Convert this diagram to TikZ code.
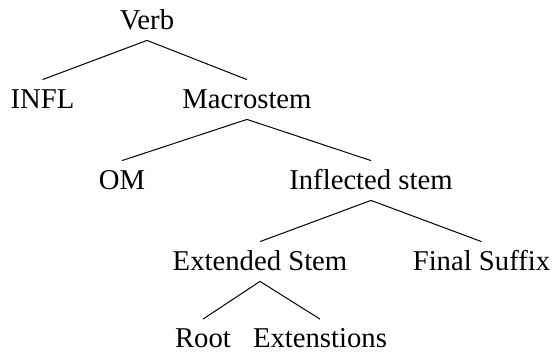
\documentclass[tikz,border=0pt]{standalone}
\usepackage{fontspec}
\setmainfont{Liberation Serif}
\begin{document}
\begin{tikzpicture}[x=0.5pt,y=-0.5pt,
  lbl/.style={anchor=base,inner xsep=0pt,inner ysep=5.5pt,
    text height=8.5pt,text depth=0pt,
    font=\fontsize{14.35pt}{17pt}\selectfont},
  edge/.style={line width=0.5pt}]
\useasboundingbox (0,0) rectangle (553,354);
% tree labels
\node[lbl] (verb) at (147,29) {Verb};
\node[lbl] (infl) at (42.5,108) {INFL};
\node[lbl] (macro) at (247,108) {Macrostem};
\node[lbl] (om) at (122,189) {OM};
\node[lbl] (infst) at (371,189) {Inflected stem};
\node[lbl] (ext) at (260,270) {Extended Stem};
\node[lbl] (fin) at (481.5,270) {Final Suffix};
\node[lbl] (root) at (203,347.5) {Root};
\node[lbl] (exts) at (320,347.5) {Extenstions};
% branches
\draw[edge] (verb.south) -- (infl.north);
\draw[edge] (verb.south) -- (macro.north);
\draw[edge] (macro.south) -- (om.north);
\draw[edge] (macro.south) -- (infst.north);
\draw[edge] (infst.south) -- (ext.north);
\draw[edge] (infst.south) -- (fin.north);
\draw[edge] (ext.south) -- (root.north);
\draw[edge] (ext.south) -- (exts.north);
\end{tikzpicture}
\end{document}
